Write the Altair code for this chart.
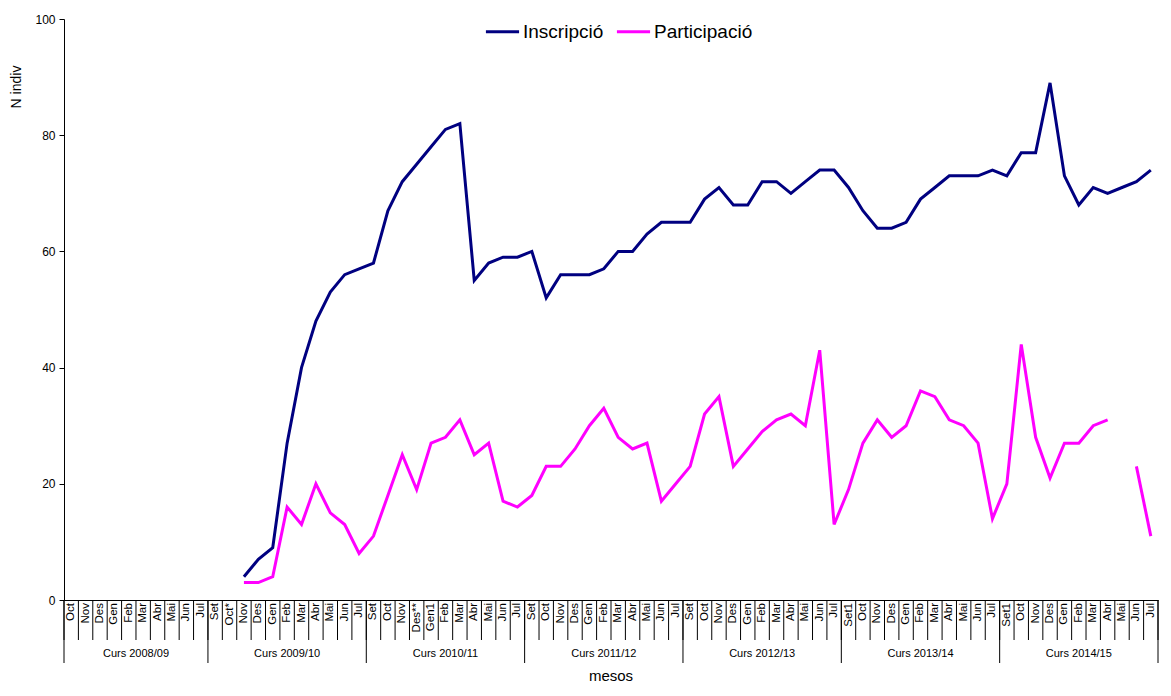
import altair as alt
import pandas as pd

courses = ["Curs 2008/09", "Curs 2009/10", "Curs 2010/11", "Curs 2011/12",
           "Curs 2012/13", "Curs 2013/14", "Curs 2014/15"]
months_by_course = [
    ["Oct", "Nov", "Des", "Gen", "Feb", "Mar", "Abr", "Mai", "Jun", "Jul"],
    ["Set", "Oct*", "Nov", "Des", "Gen", "Feb", "Mar", "Abr", "Mai", "Jun", "Jul"],
    ["Set", "Oct", "Nov", "Des**", "Gen1", "Feb", "Mar", "Abr", "Mai", "Jun", "Jul"],
    ["Set", "Oct", "Nov", "Des", "Gen", "Feb", "Mar", "Abr", "Mai", "Jun", "Jul"],
    ["Set", "Oct", "Nov", "Des", "Gen", "Feb", "Mar", "Abr", "Mai", "Jun", "Jul"],
    ["Set1", "Oct", "Nov", "Des", "Gen", "Feb", "Mar", "Abr", "Mai", "Jun", "Jul"],
    ["Set1", "Oct", "Nov", "Des", "Gen", "Feb", "Mar", "Abr", "Mai", "Jun", "Jul"],
]

inscripcio = [None] * 12 + [
    4, 7, 9, 27, 40, 48, 53, 56, 57,
    58, 67, 72, 75, 78, 81, 82, 55, 58, 59, 59,
    60, 52, 56, 56, 56, 57, 60, 60, 63, 65, 65,
    65, 69, 71, 68, 68, 72, 72, 70, 72, 74, 74,
    71, 67, 64, 64, 65, 69, 71, 73, 73, 73, 74,
    73, 77, 77, 89, 73, 68, 71, 70, 71, 72, 74,
]
participacio = [None] * 12 + [
    3, 3, 4, 16, 13, 20, 15, 13, 8,
    11, 18, 25, 19, 27, 28, 31, 25, 27, 17, 16,
    18, 23, 23, 26, 30, 33, 28, 26, 27, 17, 20,
    23, 32, 35, 23, 26, 29, 31, 32, 30, 43, 13,
    19, 27, 31, 28, 30, 36, 35, 31, 30, 27, 14,
    20, 44, 28, 21, 27, 27, 30, 31, None, 23, 11,
]
series_names = ["Inscripció", "Participació"]
series_colors = ["#000080", "#FF00FF"]
y_ticks = [0, 20, 40, 60, 80, 100]

W, H = 1094, 581

# month table
month_rows = []
course_rows = []
course_bounds = [-0.5]
pos = 0
for c, ms in zip(courses, months_by_course):
    start = pos
    for m in ms:
        month_rows.append({"pos": pos, "month": m, "course": c})
        pos += 1
    course_rows.append({"course": c, "center": (start + pos - 1) / 2})
    course_bounds.append(pos - 0.5)
n = pos
months_df = pd.DataFrame(month_rows)
courses_df = pd.DataFrame(course_rows)
month_sep_df = pd.DataFrame({"pos": [i - 0.5 for i in range(n + 1)]})
course_sep_df = pd.DataFrame({"pos": course_bounds})

line_rows = []
for name, vals in zip(series_names, [inscripcio, participacio]):
    seg = 0
    for i, v in enumerate(vals):
        if v is None:
            seg += 1
            continue
        line_rows.append({"pos": i, "value": v, "series": name, "seg": f"{name}-{seg}"})
lines_df = pd.DataFrame(line_rows)

xscale = alt.Scale(domain=[-0.5, n - 0.5], nice=False, zero=False)

lines = alt.Chart(lines_df).mark_line(strokeWidth=3).encode(
    x=alt.X("pos:Q", scale=xscale,
            axis=alt.Axis(labels=False, ticks=False, grid=False, title=None,
                          domainColor="black", domainWidth=1)),
    y=alt.Y("value:Q", scale=alt.Scale(domain=[0, 100], nice=False),
            axis=alt.Axis(values=y_ticks, grid=False, title=None, tickColor="black",
                          domainColor="black", labelFontSize=12, labelColor="black",
                          tickSize=5, labelPadding=4)),
    color=alt.Color("series:N",
                    scale=alt.Scale(domain=series_names, range=series_colors),
                    legend=alt.Legend(title=None, orient="none", legendX=420, legendY=-6,
                                      direction="horizontal", symbolType="stroke",
                                      symbolStrokeWidth=3, symbolSize=1100,
                                      labelFontSize=19, labelColor="black",
                                      columnPadding=6, labelOffset=2)),
    detail="seg:N",
)

month_seps = alt.Chart(month_sep_df).mark_rule(color="black", strokeWidth=1).encode(
    x=alt.X("pos:Q", scale=xscale), y=alt.value(H), y2=alt.value(H + 40))
course_seps = alt.Chart(course_sep_df).mark_rule(color="black", strokeWidth=1).encode(
    x=alt.X("pos:Q", scale=xscale), y=alt.value(H), y2=alt.value(H + 63))

month_text = alt.Chart(months_df).mark_text(
    angle=270, align="right", baseline="middle", fontSize=11.5, color="black"
).encode(x=alt.X("pos:Q", scale=xscale), y=alt.value(H + 3), text="month:N")

course_text = alt.Chart(courses_df).mark_text(
    baseline="middle", fontSize=11, color="black"
).encode(x=alt.X("center:Q", scale=xscale), y=alt.value(H + 54), text="course:N")

xtitle = alt.Chart(pd.DataFrame({"t": ["mesos"]})).mark_text(
    fontSize=15, color="black", baseline="middle"
).encode(x=alt.value(W / 2), y=alt.value(H + 76), text="t:N")

ytitle = alt.Chart(pd.DataFrame({"t": ["N indiv"]})).mark_text(
    fontSize=14, color="black", angle=270, baseline="middle"
).encode(x=alt.value(-47), y=alt.value(68), text="t:N")

chart = alt.layer(
    month_seps, course_seps, month_text, course_text, xtitle, ytitle, lines
).properties(
    width=W, height=H,
    padding={"left": 2, "top": 5, "right": 2, "bottom": 0},
).configure(font="Liberation Sans").configure_view(strokeWidth=0)

chart.save("out.html", embed_options={"renderer": "svg", "actions": False})
